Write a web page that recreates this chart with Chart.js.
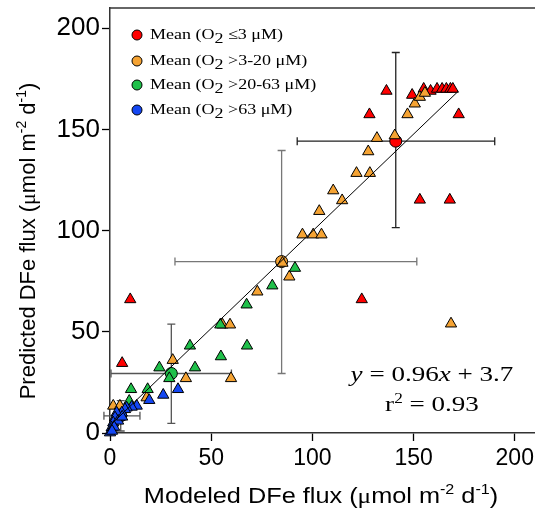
<!DOCTYPE html>
<html>
<head>
<meta charset="utf-8">
<script src="https://cdn.jsdelivr.net/npm/chart.js@4.4.1/dist/chart.umd.min.js"></script>
<style>
  html, body { margin: 0; padding: 0; background: #fff; }
</style>
</head>
<body>
<canvas id="chart" width="535" height="512"></canvas>
<script>
// O2 classes (legend ranges)
const groupRanges = ["\u22643", ">3-20", ">20-63", ">63"];
const groupColors = ["#ff0000", "#f5a333", "#1fc04a", "#1447f2"];

// individual sites: modeled (x) vs predicted (y)
const redX = [10, 6, 124.4, 136.6, 149.3, 155, 158.4, 161.6, 164.1, 166.2, 168.2, 169.4, 128.2, 172.3, 153.1, 167.9];
const redY = [66, 34.5, 66, 169, 167, 170, 169, 170, 170, 170, 170, 170, 157.4, 157.4, 115.2, 115.2];

const orangeX = [140.7, 131.9, 127.6, 121.8, 128.4, 110.3, 114.7, 103.4, 95.1, 100.4, 104.5, 147, 150.6, 153.1, 155.6, 168.5, 85.2, 88.6, 72.8, 55.6, 59.3, 31, 37.5, 59.8, 18.1, 1.6, 4.9];
const orangeY = [147, 145.7, 139.1, 128.4, 128.4, 119.8, 114.9, 109.6, 98, 98, 98, 157.4, 162.7, 166, 168, 54, 84, 77.2, 69.8, 53.5, 53.5, 36, 27, 27, 17.5, 13.4, 13.4];

const greenX = [91.4, 80.2, 67.5, 54.5, 67.7, 39.5, 54.8, 24.4, 42, 29.3, 10.4, 18.6, 9.5, 5];
const greenY = [81.5, 72.8, 63.4, 53.5, 43.1, 43.1, 37.8, 32.3, 32.3, 27, 21.6, 21.6, 15.8, 8];

const blueX = [33.6, 26.3, 19.4, 13.2, 10.7, 8.2, 7.4, 5.8, 3.3, 2.5, 1.6, 0.8, 0, 4, 6, 2, 1];
const blueY = [21.6, 18.8, 16.2, 13.4, 12.9, 12.5, 11.7, 10, 10, 7.6, 5.1, 2.6, 0.2, 6, 8, 3, 1];

// class means with error bar extents
const meanX = [141.2, 84.8, 30.3, 5.3];
const meanY = [144.2, 84.7, 29.4, 8.5];
const meanXLow = [92.5, 32.1, 0.5, -3];
const meanXHigh = [190.1, 151.6, 60, 14.8];
const meanYLow = [101.5, 29.4, 4.8, 1];
const meanYHigh = [188, 139.6, 53.8, 16];
const errColors = ["#222", "#777", "#555", "#555"];

// regression line y = 0.96x + 3.7
const fitX = [0, 172];
const fitY = [3.7, 168.8];

const tickValues = [0, 50, 100, 150, 200];

function pts(xs, ys) {
  return xs.map((x, i) => ({ x: x, y: ys[i] }));
}

const SANS = "'Liberation Sans', Arial, sans-serif";
const SERIF = "'Liberation Serif', 'Times New Roman', serif";

function triSet(label, xs, ys, color, order) {
  return {
    type: "scatter",
    label: label,
    data: pts(xs, ys),
    pointStyle: "triangle",
    pointRadius: 6.5,
    backgroundColor: color,
    borderColor: "#000",
    borderWidth: 1,
    order: order,
    clip: false
  };
}

// draw a run of text pieces {t, font, dy}, optionally stretched horizontally
function drawParts(ctx, parts, x, y, align, sx) {
  sx = sx || 1;
  let total = 0;
  parts.forEach(p => { ctx.font = p.font; total += ctx.measureText(p.t).width; });
  ctx.save();
  ctx.translate(x, y);
  ctx.scale(sx, 1);
  let cx = align === "center" ? -total / 2 : 0;
  ctx.textAlign = "left";
  parts.forEach(p => {
    ctx.font = p.font;
    ctx.fillText(p.t, cx, p.dy || 0);
    cx += ctx.measureText(p.t).width;
  });
  ctx.restore();
}

const extras = {
  id: "extras",
  beforeDatasetsDraw(chart) {
    const ctx = chart.ctx, xs = chart.scales.x, ys = chart.scales.y;
    ctx.save();
    ctx.lineWidth = 1.3;
    const cap = 4;
    meanX.forEach((m, i) => {
      const px = xs.getPixelForValue(m), py = ys.getPixelForValue(meanY[i]);
      const x0 = xs.getPixelForValue(meanXLow[i]), x1 = xs.getPixelForValue(meanXHigh[i]);
      const y0 = ys.getPixelForValue(meanYLow[i]), y1 = ys.getPixelForValue(meanYHigh[i]);
      ctx.strokeStyle = errColors[i];
      ctx.beginPath();
      ctx.moveTo(x0, py); ctx.lineTo(x1, py);
      ctx.moveTo(x0, py - cap); ctx.lineTo(x0, py + cap);
      ctx.moveTo(x1, py - cap); ctx.lineTo(x1, py + cap);
      ctx.moveTo(px, y0); ctx.lineTo(px, y1);
      ctx.moveTo(px - cap, y0); ctx.lineTo(px + cap, y0);
      ctx.moveTo(px - cap, y1); ctx.lineTo(px + cap, y1);
      ctx.stroke();
    });
    ctx.restore();
  },
  afterDraw(chart) {
    const ctx = chart.ctx, a = chart.chartArea;
    ctx.save();
    // top frame line
    ctx.strokeStyle = "#333";
    ctx.lineWidth = 1.5;
    ctx.beginPath();
    ctx.moveTo(a.left, a.top); ctx.lineTo(a.right, a.top);
    ctx.stroke();

    ctx.fillStyle = "#000";
    ctx.textBaseline = "middle";

    // legend
    const rowY = [35, 61, 85, 110];
    groupRanges.forEach((r, i) => {
      const y = rowY[i];
      ctx.beginPath();
      ctx.arc(137, y, 5, 0, Math.PI * 2);
      ctx.fillStyle = groupColors[i];
      ctx.fill();
      ctx.lineWidth = 1;
      ctx.strokeStyle = "#000";
      ctx.stroke();
      ctx.fillStyle = "#000";
      drawParts(ctx, [
        { t: "Mean (O", font: "15px " + SERIF },
        { t: "2", font: "15px " + SERIF, dy: 4 },
        { t: " " + r + " \u03bcM)", font: "15px " + SERIF }
      ], 150, y, "left", 1.2);
    });

    // equation
    drawParts(ctx, [
      { t: "y", font: "italic 22px " + SERIF },
      { t: " = 0.96", font: "22px " + SERIF },
      { t: "x", font: "italic 22px " + SERIF },
      { t: " + 3.7", font: "22px " + SERIF }
    ], 432, 375, "center", 1.23);
    drawParts(ctx, [
      { t: "r", font: "22px " + SERIF },
      { t: "2", font: "14px " + SERIF, dy: -6 },
      { t: " = 0.93", font: "22px " + SERIF }
    ], 432, 405, "center", 1.23);

    // axis titles
    const tParts = [
      { t: "(", font: "22px " + SANS },
      { t: "\u03bc", font: "22px " + SERIF },
      { t: "mol m", font: "22px " + SANS },
      { t: "-2", font: "14px " + SANS, dy: -7 },
      { t: " d", font: "22px " + SANS },
      { t: "-1", font: "14px " + SANS, dy: -7 },
      { t: ")", font: "22px " + SANS }
    ];
    drawParts(ctx, [{ t: "Modeled DFe flux ", font: "22px " + SANS }].concat(tParts), 321, 497, "center", 1.15);
    ctx.translate(29, 241);
    ctx.rotate(-Math.PI / 2);
    drawParts(ctx, [{ t: "Predicted DFe flux ", font: "22px " + SANS }].concat(tParts), 0, 0, "center", 1);
    ctx.restore();
  }
};

function axis(isX) {
  return {
    type: "linear",
    min: 0,
    max: 210,
    afterBuildTicks(scale) {
      scale.ticks = tickValues.map(v => ({ value: v }));
    },
    afterFit(scale) {
      if (isX) {
        scale.height = 79;
        scale.paddingLeft = 0;
        scale.paddingRight = 0;
      } else {
        scale.width = 110;
        scale.paddingTop = 0;
        scale.paddingBottom = 0;
      }
    },
    ticks: {
      color: "#000",
      font: { family: SANS, size: isX ? 23 : 26 },
      padding: isX ? 4 : 2,
      callback: v => String(v)
    },
    grid: {
      drawOnChartArea: false,
      drawTicks: true,
      tickLength: 8,
      tickColor: "#000",
      tickWidth: 1.3
    },
    border: { color: "#333", width: 1.5 },
    title: { display: false }
  };
}

new Chart(document.getElementById("chart"), {
  type: "scatter",
  data: {
    datasets: [
      {
        type: "line",
        label: "fit",
        data: pts(fitX, fitY),
        borderColor: "#000",
        borderWidth: 1,
        pointRadius: 0,
        fill: false,
        order: 0,
        clip: false
      },
      triSet("O\u2082 >63 \u03bcM", blueX, blueY, groupColors[3], 1),
      triSet("O\u2082 >20-63 \u03bcM", greenX, greenY, groupColors[2], 2),
      triSet("O\u2082 >3-20 \u03bcM", orangeX, orangeY, groupColors[1], 3),
      triSet("O\u2082 \u22643 \u03bcM", redX, redY, groupColors[0], 4),
      {
        type: "scatter",
        label: "means",
        data: pts(meanX, meanY),
        pointStyle: "circle",
        pointRadius: 6,
        backgroundColor: groupColors,
        borderColor: "#000",
        borderWidth: 1,
        order: 5,
        clip: false
      }
    ]
  },
  options: {
    responsive: false,
    animation: false,
    layout: { autoPadding: false, padding: { top: 8, right: 0, left: 0, bottom: 0 } },
    plugins: { legend: { display: false }, tooltip: { enabled: false } },
    scales: { x: axis(true), y: axis(false) }
  },
  plugins: [extras]
});
</script>
</body>
</html>
